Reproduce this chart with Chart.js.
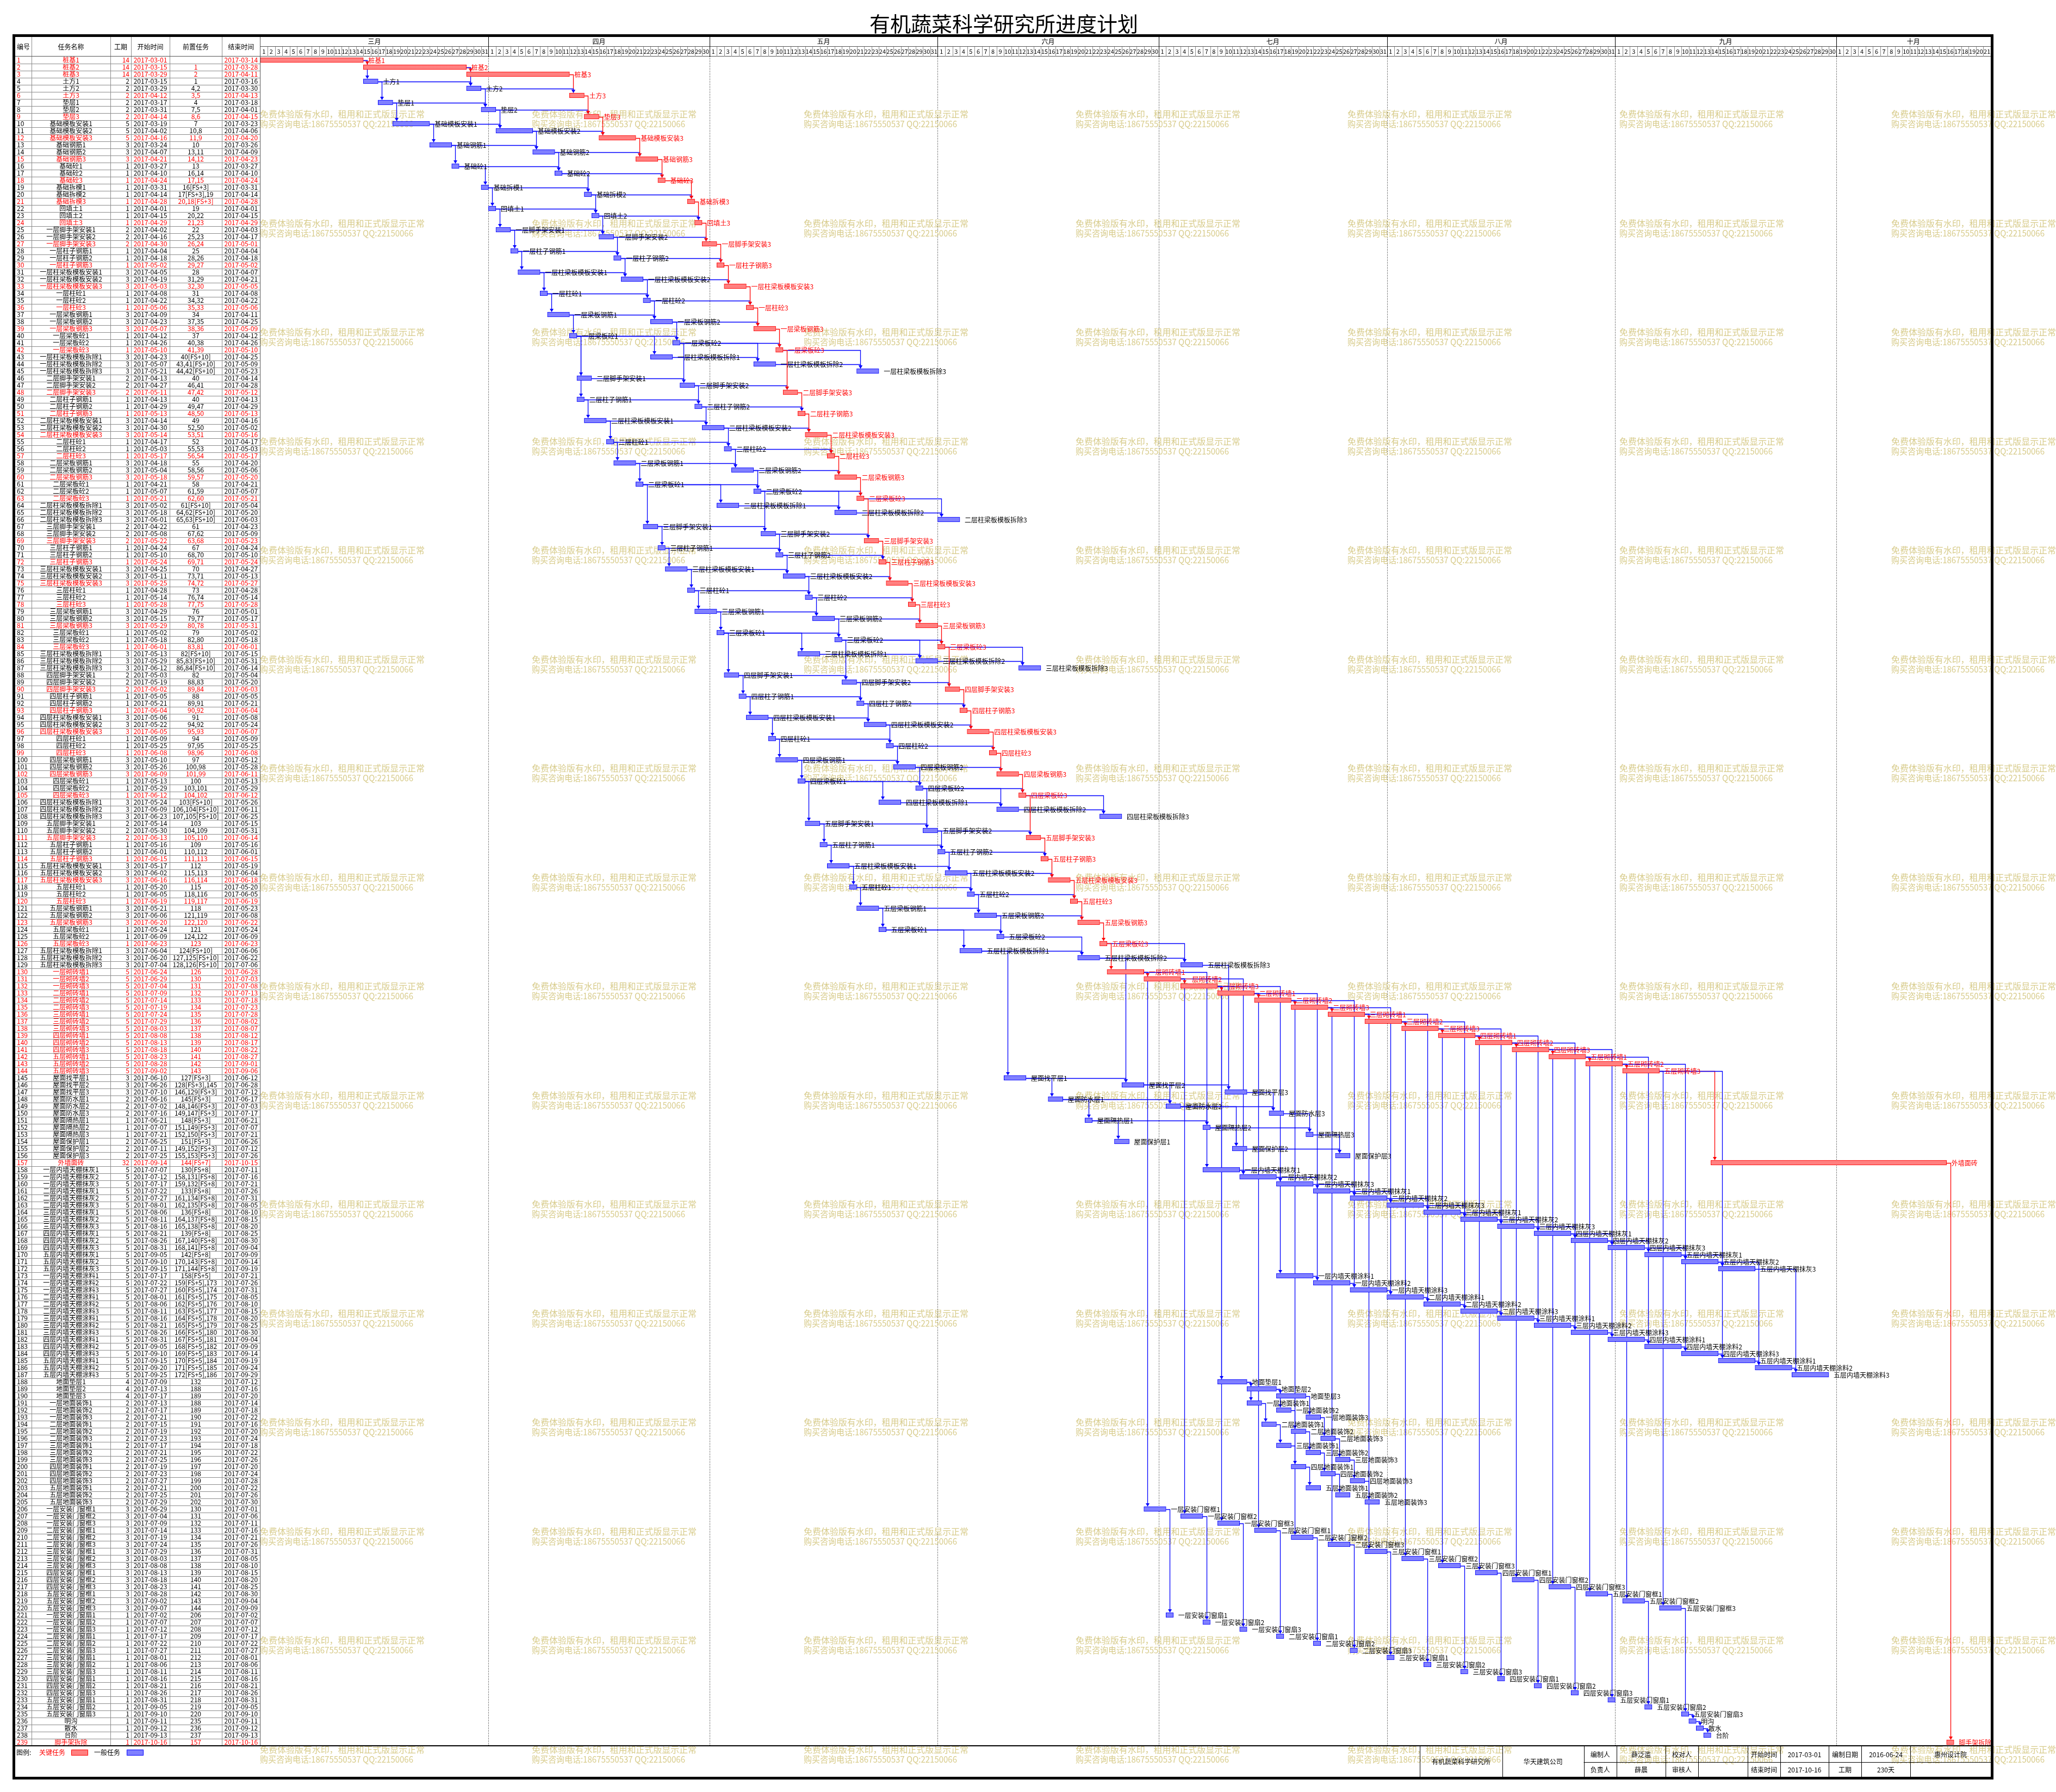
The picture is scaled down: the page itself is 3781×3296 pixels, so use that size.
<!DOCTYPE html>
<html><head><meta charset="utf-8">
<script src="https://cdn.jsdelivr.net/npm/chart.js@4.4.1/dist/chart.umd.min.js"></script>
<style>html,body{margin:0;padding:0;background:#fff;}#wrap{position:relative;width:3781px;height:3296px;}</style>
</head><body><div id="wrap"><canvas id="c" width="3781" height="3296"></canvas></div>
<script>
// ---------------- DATA ----------------
const title = '有机蔬菜科学研究所进度计划';
const names = ['桩基1','桩基2','桩基3','土方1','土方2','土方3','垫层1','垫层2','垫层3',
'基础模板安装1','基础模板安装2','基础模板安装3','基础钢筋1','基础钢筋2','基础钢筋3','基础砼1','基础砼2','基础砼3',
'基础拆模1','基础拆模2','基础拆模3','回填土1','回填土2','回填土3',
'一层脚手架安装1','一层脚手架安装2','一层脚手架安装3','一层柱子钢筋1','一层柱子钢筋2','一层柱子钢筋3',
'一层柱梁板模板安装1','一层柱梁板模板安装2','一层柱梁板模板安装3','一层柱砼1','一层柱砼2','一层柱砼3',
'一层梁板钢筋1','一层梁板钢筋2','一层梁板钢筋3','一层梁板砼1','一层梁板砼2','一层梁板砼3',
'一层柱梁板模板拆除1','一层柱梁板模板拆除2','一层柱梁板模板拆除3',
'二层脚手架安装1','二层脚手架安装2','二层脚手架安装3','二层柱子钢筋1','二层柱子钢筋2','二层柱子钢筋3',
'二层柱梁板模板安装1','二层柱梁板模板安装2','二层柱梁板模板安装3','二层柱砼1','二层柱砼2','二层柱砼3',
'二层梁板钢筋1','二层梁板钢筋2','二层梁板钢筋3','二层梁板砼1','二层梁板砼2','二层梁板砼3',
'二层柱梁板模板拆除1','二层柱梁板模板拆除2','二层柱梁板模板拆除3',
'三层脚手架安装1','三层脚手架安装2','三层脚手架安装3','三层柱子钢筋1','三层柱子钢筋2','三层柱子钢筋3',
'三层柱梁板模板安装1','三层柱梁板模板安装2','三层柱梁板模板安装3','三层柱砼1','三层柱砼2','三层柱砼3',
'三层梁板钢筋1','三层梁板钢筋2','三层梁板钢筋3','三层梁板砼1','三层梁板砼2','三层梁板砼3',
'三层柱梁板模板拆除1','三层柱梁板模板拆除2','三层柱梁板模板拆除3',
'四层脚手架安装1','四层脚手架安装2','四层脚手架安装3','四层柱子钢筋1','四层柱子钢筋2','四层柱子钢筋3',
'四层柱梁板模板安装1','四层柱梁板模板安装2','四层柱梁板模板安装3','四层柱砼1','四层柱砼2','四层柱砼3',
'四层梁板钢筋1','四层梁板钢筋2','四层梁板钢筋3','四层梁板砼1','四层梁板砼2','四层梁板砼3',
'四层柱梁板模板拆除1','四层柱梁板模板拆除2','四层柱梁板模板拆除3',
'五层脚手架安装1','五层脚手架安装2','五层脚手架安装3','五层柱子钢筋1','五层柱子钢筋2','五层柱子钢筋3',
'五层柱梁板模板安装1','五层柱梁板模板安装2','五层柱梁板模板安装3','五层柱砼1','五层柱砼2','五层柱砼3',
'五层梁板钢筋1','五层梁板钢筋2','五层梁板钢筋3','五层梁板砼1','五层梁板砼2','五层梁板砼3',
'五层柱梁板模板拆除1','五层柱梁板模板拆除2','五层柱梁板模板拆除3',
'一层砌砖墙1','一层砌砖墙2','一层砌砖墙3','二层砌砖墙1','二层砌砖墙2','二层砌砖墙3','三层砌砖墙1','三层砌砖墙2','三层砌砖墙3',
'四层砌砖墙1','四层砌砖墙2','四层砌砖墙3','五层砌砖墙1','五层砌砖墙2','五层砌砖墙3',
'屋面找平层1','屋面找平层2','屋面找平层3','屋面防水层1','屋面防水层2','屋面防水层3','屋面隔热层1','屋面隔热层2','屋面隔热层3',
'屋面保护层1','屋面保护层2','屋面保护层3','外墙面砖',
'一层内墙天棚抹灰1','一层内墙天棚抹灰2','一层内墙天棚抹灰3','二层内墙天棚抹灰1','二层内墙天棚抹灰2','二层内墙天棚抹灰3',
'三层内墙天棚抹灰1','三层内墙天棚抹灰2','三层内墙天棚抹灰3','四层内墙天棚抹灰1','四层内墙天棚抹灰2','四层内墙天棚抹灰3',
'五层内墙天棚抹灰1','五层内墙天棚抹灰2','五层内墙天棚抹灰3',
'一层内墙天棚涂料1','一层内墙天棚涂料2','一层内墙天棚涂料3','二层内墙天棚涂料1','二层内墙天棚涂料2','二层内墙天棚涂料3',
'三层内墙天棚涂料1','三层内墙天棚涂料2','三层内墙天棚涂料3','四层内墙天棚涂料1','四层内墙天棚涂料2','四层内墙天棚涂料3',
'五层内墙天棚涂料1','五层内墙天棚涂料2','五层内墙天棚涂料3',
'地面垫层1','地面垫层2','地面垫层3',
'一层地面装饰1','一层地面装饰2','一层地面装饰3','二层地面装饰1','二层地面装饰2','二层地面装饰3','三层地面装饰1','三层地面装饰2','三层地面装饰3',
'四层地面装饰1','四层地面装饰2','四层地面装饰3','五层地面装饰1','五层地面装饰2','五层地面装饰3',
'一层安装门窗框1','一层安装门窗框2','一层安装门窗框3','二层安装门窗框1','二层安装门窗框2','二层安装门窗框3','三层安装门窗框1','三层安装门窗框2','三层安装门窗框3',
'四层安装门窗框1','四层安装门窗框2','四层安装门窗框3','五层安装门窗框1','五层安装门窗框2','五层安装门窗框3',
'一层安装门窗扇1','一层安装门窗扇2','一层安装门窗扇3','二层安装门窗扇1','二层安装门窗扇2','二层安装门窗扇3','三层安装门窗扇1','三层安装门窗扇2','三层安装门窗扇3',
'四层安装门窗扇1','四层安装门窗扇2','四层安装门窗扇3','五层安装门窗扇1','五层安装门窗扇2','五层安装门窗扇3',
'明沟','散水','台阶','脚手架拆除'];
const durations = [14,14,14,2,2,2,2,2,2,5,5,5,3,3,3,1,1,1,1,1,1,1,1,1,
2,2,2,1,1,1,3,3,3,1,1,1,3,3,3,1,1,1,3,3,3,
2,2,2,1,1,1,3,3,3,1,1,1,3,3,3,1,1,1,3,3,3,
2,2,2,1,1,1,3,3,3,1,1,1,3,3,3,1,1,1,3,3,3,
2,2,2,1,1,1,3,3,3,1,1,1,3,3,3,1,1,1,3,3,3,
2,2,2,1,1,1,3,3,3,1,1,1,3,3,3,1,1,1,3,3,3,
5,5,5,5,5,5,5,5,5,5,5,5,5,5,5,
3,3,3,2,2,2,1,1,1,2,2,2,32,
5,5,5,5,5,5,5,5,5,5,5,5,5,5,5,
5,5,5,5,5,5,5,5,5,5,5,5,5,5,5,
4,4,4,2,2,2,2,2,2,2,2,2,2,2,2,2,2,2,
3,3,3,3,3,3,3,3,3,3,3,3,3,3,3,
1,1,1,1,1,1,1,1,1,1,1,1,1,1,1,1,1,1,1];
const startDates = ['03-01','03-15','03-29','03-15','03-29','04-12','03-17','03-31','04-14','03-19','04-02','04-16','03-24','04-07','04-21','03-27','04-10','04-24','03-31','04-14','04-28','04-01','04-15','04-29',
'04-02','04-16','04-30','04-04','04-18','05-02','04-05','04-19','05-03','04-08','04-22','05-06','04-09','04-23','05-07','04-12','04-26','05-10','04-23','05-07','05-21',
'04-13','04-27','05-11','04-13','04-29','05-13','04-14','04-30','05-14','04-17','05-03','05-17','04-18','05-04','05-18','04-21','05-07','05-21','05-02','05-18','06-01',
'04-22','05-08','05-22','04-24','05-10','05-24','04-25','05-11','05-25','04-28','05-14','05-28','04-29','05-15','05-29','05-02','05-18','06-01','05-13','05-29','06-12',
'05-03','05-19','06-02','05-05','05-21','06-04','05-06','05-22','06-05','05-09','05-25','06-08','05-10','05-26','06-09','05-13','05-29','06-12','05-24','06-09','06-23',
'05-14','05-30','06-13','05-16','06-01','06-15','05-17','06-02','06-16','05-20','06-05','06-19','05-21','06-06','06-20','05-24','06-09','06-23','06-04','06-20','07-04',
'06-24','06-29','07-04','07-09','07-14','07-19','07-24','07-29','08-03','08-08','08-13','08-18','08-23','08-28','09-02',
'06-10','06-26','07-10','06-16','07-02','07-16','06-21','07-07','07-21','06-25','07-11','07-25','09-14',
'07-07','07-12','07-17','07-22','07-27','08-01','08-06','08-11','08-16','08-21','08-26','08-31','09-05','09-10','09-15',
'07-17','07-22','07-27','08-01','08-06','08-11','08-16','08-21','08-26','08-31','09-05','09-10','09-15','09-20','09-25',
'07-09','07-13','07-17',
'07-13','07-17','07-21','07-15','07-19','07-23','07-17','07-21','07-25','07-19','07-23','07-27','07-21','07-25','07-29',
'06-29','07-04','07-09','07-14','07-19','07-24','07-29','08-03','08-08','08-13','08-18','08-23','08-28','09-02','09-07',
'07-02','07-07','07-12','07-17','07-22','07-27','08-01','08-06','08-11','08-16','08-21','08-26','08-31','09-05','09-10',
'09-11','09-12','09-13','10-16'];
const endDates = ['03-14','03-28','04-11','03-16','03-30','04-13','03-18','04-01','04-15','03-23','04-06','04-20','03-26','04-09','04-23','03-27','04-10','04-24','03-31','04-14','04-28','04-01','04-15','04-29',
'04-03','04-17','05-01','04-04','04-18','05-02','04-07','04-21','05-05','04-08','04-22','05-06','04-11','04-25','05-09','04-12','04-26','05-10','04-25','05-09','05-23',
'04-14','04-28','05-12','04-13','04-29','05-13','04-16','05-02','05-16','04-17','05-03','05-17','04-20','05-06','05-20','04-21','05-07','05-21','05-04','05-20','06-03',
'04-23','05-09','05-23','04-24','05-10','05-24','04-27','05-13','05-27','04-28','05-14','05-28','05-01','05-17','05-31','05-02','05-18','06-01','05-15','05-31','06-14',
'05-04','05-20','06-03','05-05','05-21','06-04','05-08','05-24','06-07','05-09','05-25','06-08','05-12','05-28','06-11','05-13','05-29','06-12','05-26','06-11','06-25',
'05-15','05-31','06-14','05-16','06-01','06-15','05-19','06-04','06-18','05-20','06-05','06-19','05-23','06-08','06-22','05-24','06-09','06-23','06-06','06-22','07-06',
'06-28','07-03','07-08','07-13','07-18','07-23','07-28','08-02','08-07','08-12','08-17','08-22','08-27','09-01','09-06',
'06-12','06-28','07-12','06-17','07-03','07-17','06-21','07-07','07-21','06-26','07-12','07-26','10-15',
'07-11','07-16','07-21','07-26','07-31','08-05','08-10','08-15','08-20','08-25','08-30','09-04','09-09','09-14','09-19',
'07-21','07-26','07-31','08-05','08-10','08-15','08-20','08-25','08-30','09-04','09-09','09-14','09-19','09-24','09-29',
'07-12','07-16','07-20',
'07-14','07-18','07-22','07-16','07-20','07-24','07-18','07-22','07-26','07-20','07-24','07-28','07-22','07-26','07-30',
'07-01','07-06','07-11','07-16','07-21','07-26','07-31','08-05','08-10','08-15','08-20','08-25','08-30','09-04','09-09',
'07-02','07-07','07-12','07-17','07-22','07-27','08-01','08-06','08-11','08-16','08-21','08-26','08-31','09-05','09-10',
'09-11','09-12','09-13','10-16'];
const predecessors = ['','1','2','1','4,2','3,5','4','7,5','8,6','7','10,8','11,9','10','13,11','14,12','13','16,14','17,15','16[FS+3]','17[FS+3],19','20,18[FS+3]','19','20,22','21,23',
'22','25,23','26,24','25','28,26','29,27','28','31,29','32,30','31','34,32','35,33','34','37,35','38,36','37','40,38','41,39','40[FS+10]','43,41[FS+10]','44,42[FS+10]',
'40','46,41','47,42','40','49,47','48,50','49','52,50','53,51','52','55,53','56,54','55','58,56','59,57','58','61,59','62,60','61[FS+10]','64,62[FS+10]','65,63[FS+10]',
'61','67,62','63,68','67','68,70','69,71','70','73,71','74,72','73','76,74','77,75','76','79,77','80,78','79','82,80','83,81','82[FS+10]','85,83[FS+10]','86,84[FS+10]',
'82','88,83','89,84','88','89,91','90,92','91','94,92','95,93','94','97,95','98,96','97','100,98','101,99','100','103,101','104,102','103[FS+10]','106,104[FS+10]','107,105[FS+10]',
'103','104,109','105,110','109','110,112','111,113','112','115,113','116,114','115','118,116','119,117','118','121,119','122,120','121','124,122','123','124[FS+10]','127,125[FS+10]','128,126[FS+10]',
'126','130','131','132','133','134','135','136','137','138','139','140','141','142','143',
'127[FS+3]','128[FS+3],145','146,129[FS+3]','145[FS+3]','148,146[FS+3]','149,147[FS+3]','148[FS+3]','151,149[FS+3]','152,150[FS+3]','151[FS+3]','149,152[FS+3]','155,153[FS+3]','144[FS+7]',
'130[FS+8]','158,131[FS+8]','159,132[FS+8]','133[FS+8]','161,134[FS+8]','162,135[FS+8]','136[FS+8]','164,137[FS+8]','165,138[FS+8]','139[FS+8]','167,140[FS+8]','168,141[FS+8]','142[FS+8]','170,143[FS+8]','171,144[FS+8]',
'158[FS+5]','159[FS+5],173','160[FS+5],174','161[FS+5],175','162[FS+5],176','163[FS+5],177','164[FS+5],178','165[FS+5],179','166[FS+5],180','167[FS+5],181','168[FS+5],182','169[FS+5],183','170[FS+5],184','171[FS+5],185','172[FS+5],186',
'132','188','189',
'188','189','190','191','192','193','194','195','196','197','198','199','200','201','202',
'130','131','132','133','134','135','136','137','138','139','140','141','142','143','144',
'206','207','208','209','210','211','212','213','214','215','216','217','218','219','220',
'235','236','237','157'];
const criticalIds = [1,2,3,6,9,12,15,18,21,24,27,30,33,36,39,42,48,51,54,57,60,63,69,72,75,78,81,84,90,93,96,99,102,105,111,114,117,120,123,126,
130,131,132,133,134,135,136,137,138,139,140,141,142,143,144,157,239];
const YEAR = '2017';
const monthLabels = ['三月','四月','五月','六月','七月','八月','九月','十月'];
const monthDays = [31,30,31,30,31,31,30,21];   // days shown per month (October cut at the 21st)
const columnHeaders = ['编号','任务名称','工期','开始时间','前置任务','结束时间'];
const legendItems = ['图例:','关键任务','一般任务'];
const footerRow1 = ['编制人','薛泛滥','校对人','','开始时间','2017-03-01','编制日期','2016-06-24','惠州设计院'];
const footerRow2 = ['负责人','薛晨','审核人','','结束时间','2017-10-16','工期','230天',''];
const footerLeft = ['有机蔬菜科学研究所','华天建筑公司'];
const watermark = ['免费体验版有水印，租用和正式版显示正常','购买咨询电话:18675550537 QQ:22150066'];

// ---------------- DERIVED ----------------
const FONT = "'Noto Sans CJK SC', 'Noto Sans', sans-serif";
const RED = '#ff0000', BLUE = '#0000ff';
const ids = names.map((_, i) => String(i + 1));
const startFull = startDates.map(s => YEAR + '-' + s);
const endFull = endDates.map(s => YEAR + '-' + s);
const DAY0 = Date.UTC(2017, 2, 1);
const dayIndex = s => { const [y, m, d] = s.split('-').map(Number); return Math.round((Date.UTC(y, m - 1, d) - DAY0) / 86400000); };
const sIdx = startFull.map(dayIndex);
const eIdx = endFull.map(s => dayIndex(s) + 1);
const critSet = new Set(criticalIds);
const isCrit = ids.map(id => critSet.has(+id));
const predList = predecessors.map(s => s ? s.split(',').map(t => parseInt(t, 10)) : []);
const NDAYS = monthDays.reduce((a, b) => a + b, 0);
const monthStarts = []; { let acc = 0; monthDays.forEach(d => { monthStarts.push(acc); acc += d; }); }
const monthMids = monthStarts.map((s, i) => s + monthDays[i] / 2);
const dayLabels = []; monthDays.forEach(n => { for (let d = 1; d <= n; d++) dayLabels.push(String(d)); });
const critData = sIdx.map((s, i) => isCrit[i] ? [s, eIdx[i]] : null);
const normData = sIdx.map((s, i) => !isCrit[i] ? [s, eIdx[i]] : null);

function makePattern(color) {
  const c = document.createElement('canvas'); c.width = 2; c.height = 2;
  const g = c.getContext('2d');
  g.fillStyle = '#fff'; g.fillRect(0, 0, 2, 2);
  g.fillStyle = color; g.fillRect(0, 0, 1, 1); g.fillRect(1, 1, 1, 1);
  return g.createPattern(c, 'repeat');
}
const redPat = makePattern(RED), bluePat = makePattern(BLUE);

const mctx = document.createElement('canvas').getContext('2d');
function widest(arr, size) { mctx.font = size + 'px ' + FONT; return Math.max(...arr.map(s => mctx.measureText(s).width)); }

// column layout (pixel widths of the table columns)
const COLW = { id: 27, name: 145, dur: 38, start: 71, pred: 96, end: 70.6 };
const centerPad = (arr, W) => Math.max(0, (W - widest(arr, 12)) / 2);
const tickColor = c => isCrit[c.index] ? RED : '#000';
function colAxis(labels, W, align, weight, pad) {
  const o = {
    type: 'category', position: 'left', offset: true, weight,
    grid: { display: false, drawTicks: false }, border: { display: false },
    ticks: { autoSkip: false, crossAlign: align, padding: pad, font: { size: 12 }, color: tickColor },
    afterFit: s => { s.width = W; }
  };
  if (labels) o.labels = labels;
  return o;
}

// ---------------- PLUGIN ----------------
const BAR_T = 9;
const ganttPlugin = {
  id: 'gantt',
  beforeDatasetsDraw(chart) {
    const { ctx, chartArea: ca, scales: { x, y } } = chart;
    ctx.save();
    // month dotted lines
    ctx.strokeStyle = '#000'; ctx.lineWidth = 1; ctx.setLineDash([1, 2]);
    monthStarts.slice(1).forEach(m => {
      const px = Math.round(x.getPixelForValue(m)) + 0.5;
      ctx.beginPath(); ctx.moveTo(px, ca.top); ctx.lineTo(px, ca.bottom); ctx.stroke();
    });
    ctx.setLineDash([]);
    // watermark
    ctx.fillStyle = 'rgb(216,204,140)'; ctx.font = '16px ' + FONT; ctx.textBaseline = 'middle'; ctx.textAlign = 'left';
    for (let r = 0; r < 16; r++) for (let c = 0; c < 7; c++) {
      const wx = 478 + c * 500, wy = 210 + r * 200.5;
      ctx.fillText(watermark[0], wx, wy, 303);
      ctx.fillText(watermark[1], wx, wy + 18, 282);
    }
    // dependency lines
    ctx.lineWidth = 1.3;
    predList.forEach((ps, i) => ps.forEach(p => {
      const j = p - 1;
      const yP = Math.round(y.getPixelForValue(j)) + 0.5;
      const xE = x.getPixelForValue(eIdx[j]);
      const xA = Math.round(x.getPixelForValue(sIdx[i] + 0.5)) + 0.5;
      const top = y.getPixelForValue(i) - BAR_T / 2;
      ctx.strokeStyle = (isCrit[i] && isCrit[j]) ? RED : BLUE;
      ctx.beginPath(); ctx.moveTo(xE, yP); ctx.lineTo(xA, yP); ctx.lineTo(xA, top - 3); ctx.stroke();
    }));
    ctx.restore();
  },
  afterDatasetsDraw(chart) {
    const { ctx, scales: { x, y } } = chart;
    ctx.save();
    // arrow heads
    predList.forEach((ps, i) => ps.forEach(p => {
      const j = p - 1;
      const xA = Math.round(x.getPixelForValue(sIdx[i] + 0.5)) + 0.5;
      const top = y.getPixelForValue(i) - BAR_T / 2;
      ctx.fillStyle = (isCrit[i] && isCrit[j]) ? RED : BLUE;
      ctx.beginPath(); ctx.moveTo(xA - 3.5, top - 6); ctx.lineTo(xA + 3.5, top - 6); ctx.lineTo(xA, top); ctx.closePath(); ctx.fill();
    }));
    // bar labels
    ctx.font = '12px ' + FONT; ctx.textBaseline = 'middle'; ctx.textAlign = 'left';
    names.forEach((n, i) => {
      ctx.fillStyle = isCrit[i] ? RED : '#000';
      ctx.fillText(n, x.getPixelForValue(eIdx[i]) + 9, y.getPixelForValue(i) + 1);
    });
    ctx.restore();
  },
  afterDraw(chart) {
    const { ctx, chartArea: ca, scales: { x } } = chart;
    const L = 28, R = ca.right;
    ctx.save();
    const hline = (x1, x2, yy, col, w) => { ctx.strokeStyle = col; ctx.lineWidth = w || 1; ctx.beginPath(); ctx.moveTo(x1, yy); ctx.lineTo(x2, yy); ctx.stroke(); };
    const vline = (xx, y1, y2, col, w) => { ctx.strokeStyle = col; ctx.lineWidth = w || 1; ctx.beginPath(); ctx.moveTo(xx, y1); ctx.lineTo(xx, y2); ctx.stroke(); };
    // table grid
    const rowH = ca.height / names.length;
    for (let i = 1; i < names.length; i++) hline(L, ca.left, Math.round(ca.top + i * rowH) + 0.5, '#8c8c8c');
    const colX = [58, 203, 241, 312, 408];
    colX.forEach(cx => vline(cx + 0.5, 66, ca.bottom, '#8c8c8c'));
    vline(Math.round(ca.left) - 0.5, 66, ca.bottom, '#555');
    hline(L, R, Math.round(ca.top) - 0.5, '#555');
    // table header
    ctx.fillStyle = '#000'; ctx.font = '12px ' + FONT; ctx.textAlign = 'center'; ctx.textBaseline = 'middle';
    const edges = [L, 58, 203, 241, 312, 408, ca.left];
    columnHeaders.forEach((h, k) => ctx.fillText(h, (edges[k] + edges[k + 1]) / 2, 86));
    // gantt header grid
    hline(ca.left, R, 85.5, '#555');
    for (let d = 1; d < NDAYS; d++) {
      const px = Math.round(x.getPixelForValue(d)) + 0.5;
      if (monthStarts.includes(d)) vline(px, 68, ca.top, '#000'); else vline(px, 86, ca.top, '#8c8c8c');
    }
    // legend row
    hline(L, R, 3211, '#000', 2);
    ctx.textAlign = 'left'; ctx.fillStyle = '#000'; ctx.fillText(legendItems[0], 30, 3223);
    ctx.fillStyle = RED; ctx.fillText(legendItems[1], 72, 3223);
    ctx.fillStyle = redPat; ctx.fillRect(131, 3218, 30, 10); ctx.strokeStyle = RED; ctx.lineWidth = 1; ctx.strokeRect(131.5, 3218.5, 30, 10);
    ctx.fillStyle = '#000'; ctx.fillText(legendItems[2], 173, 3223);
    ctx.fillStyle = bluePat; ctx.fillRect(233, 3218, 30, 10); ctx.strokeStyle = BLUE; ctx.strokeRect(233.5, 3218.5, 30, 10);
    // footer table
    const fx = [2611, 2763, 2912.5, 2973, 3063, 3123, 3214, 3274, 3363, 3423, 3513, R];
    const fTop = 3212, fMid = 3241, fBot = 3268;
    fx.slice(0, -1).forEach(xx => vline(Math.round(xx) + 0.5, fTop, fBot, '#000'));
    hline(fx[2], R, fMid + 0.5, '#000');
    ctx.fillStyle = '#000'; ctx.textAlign = 'center';
    ctx.fillText(footerLeft[0], (fx[0] + fx[1]) / 2, (fTop + fBot) / 2);
    ctx.fillText(footerLeft[1], (fx[1] + fx[2]) / 2, (fTop + fBot) / 2);
    footerRow1.forEach((t, k) => ctx.fillText(t, (fx[k + 2] + fx[k + 3]) / 2, (fTop + fMid) / 2 + 1));
    footerRow2.forEach((t, k) => ctx.fillText(t, (fx[k + 2] + fx[k + 3]) / 2, (fMid + fBot) / 2 + 1));
    // outer frame
    ctx.strokeStyle = '#000'; ctx.lineWidth = 5;
    ctx.strokeRect(25.5, 65.5, R + 2.5 - 25.5, 3270.5 - 65.5);
    ctx.restore();
  }
};

// ---------------- CHART ----------------
Chart.defaults.font.family = FONT;
Chart.defaults.color = '#000';
new Chart(document.getElementById('c'), {
  type: 'bar',
  data: {
    labels: ids,
    datasets: [
      { label: '关键任务', data: critData, backgroundColor: redPat, borderColor: RED, borderWidth: 1, borderSkipped: false, barThickness: BAR_T, grouped: false, xAxisID: 'x', yAxisID: 'y' },
      { label: '一般任务', data: normData, backgroundColor: bluePat, borderColor: BLUE, borderWidth: 1, borderSkipped: false, barThickness: BAR_T, grouped: false, xAxisID: 'x', yAxisID: 'y' }
    ]
  },
  options: {
    indexAxis: 'y', responsive: false, animation: false, devicePixelRatio: 1, events: [],
    layout: { padding: { left: 31, right: 120, top: 0, bottom: 85 } },
    plugins: {
      legend: { display: false }, tooltip: { enabled: false },
      title: { display: true, text: title, color: '#000', font: { size: 38, weight: 'normal', family: FONT, lineHeight: 1.1 }, padding: { top: 23, bottom: 3.2 } }
    },
    scales: {
      x: { type: 'linear', display: false, min: 0, max: NDAYS },
      days: {
        type: 'category', position: 'top', labels: dayLabels, offset: true, weight: 1,
        grid: { display: false, drawTicks: false }, border: { display: false },
        ticks: { autoSkip: false, maxRotation: 0, minRotation: 0, padding: 2.9, font: { size: 11 }, color: '#000' },
        afterFit: s => { s.height = 19; }
      },
      months: {
        type: 'linear', position: 'top', min: 0, max: NDAYS, weight: 2,
        grid: { display: false, drawTicks: false }, border: { display: false },
        afterBuildTicks: a => { a.ticks = monthMids.map(v => ({ value: v })); },
        ticks: { autoSkip: false, maxRotation: 0, padding: 1.3, font: { size: 12 }, color: '#000', callback: (v, i) => monthLabels[i] },
        afterFit: s => { s.height = 17; }
      },
      y: colAxis(null, COLW.id, 'far', 6, 0),
      yName: colAxis(names, COLW.name, 'center', 5, centerPad(names, COLW.name)),
      yDur: colAxis(durations.map(String), COLW.dur, 'near', 4, 3),
      yStart: colAxis(startFull, COLW.start, 'center', 3, centerPad(startFull, COLW.start)),
      yPred: colAxis(predecessors, COLW.pred, 'center', 2, centerPad(predecessors, COLW.pred)),
      yEnd: colAxis(endFull, COLW.end, 'center', 1, centerPad(endFull, COLW.end))
    }
  },
  plugins: [ganttPlugin]
});
</script></body></html>
